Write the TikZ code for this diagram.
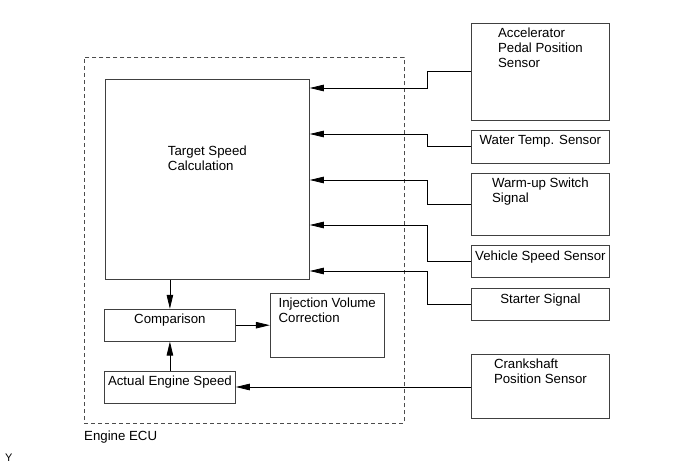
\documentclass[tikz,border=0pt]{standalone}
\usepackage{fontspec}
\setmainfont{Liberation Sans}
\usepackage{xcolor}
\usepackage{tikz}
\usetikzlibrary{arrows.meta,positioning,shapes,calc}

\begin{document}
\begin{tikzpicture}[
    x=1bp, y=1bp,
    box/.style={rectangle, draw=black!75, line width=0.8bp, minimum width=138bp, inner sep=0pt},
    txt/.style={font=\fontsize{13.3}{15}\selectfont, align=left, inner sep=0pt, anchor=north, yshift=-5bp},
    arrow/.style={-{Triangle[length=14bp,width=6.5bp]}, line width=0.8bp},
    ecu/.style={rectangle, draw=black!70, line width=0.8bp, dash pattern=on 4bp off 3bp, inner sep=0pt}
]
    \useasboundingbox (0,0) rectangle (690,-465);

    % Engine ECU (dashed frame)
    \node[ecu, minimum width=320bp, minimum height=366bp, anchor=north west,
          label={[txt, anchor=north west, yshift=-2bp]south west:Engine ECU}] (ecubox) at (84,-57) {};

    % Target speed block (left, big)
    \node[box, minimum width=204bp, minimum height=200bp, anchor=north west,
          label={[txt, yshift=-62bp]north:{Target Speed\\Calculation}}] (target) at (105,-79) {};

    % Comparison, actual speed, injection correction (bottom left)
    \node[box, minimum width=131bp, minimum height=32bp, below right=29bp and -1bp of target.south west,
          label={[txt]north:Comparison}] (comp) {};
    \node[box, minimum width=131bp, minimum height=32bp, below=29bp of comp,
          label={[txt]north:Actual Engine Speed}] (act) {};
    \node[box, minimum width=114bp, minimum height=64bp, right=34bp of comp,
          label={[txt]north:{Injection Volume\\Correction}}] (inj) {};

    % Sensors (right column)
    \node[box, minimum height=97bp, anchor=north west,
          label={[txt]north:{Accelerator\\Pedal Position\\Sensor}}] (accel) at (471,-23) {};
    \node[box, minimum height=33bp, below=9bp of accel,
          label={[txt]north:Water Temp. Sensor}] (water) {};
    \node[box, minimum height=62bp, below=9bp of water,
          label={[txt]north:{Warm-up Switch\\Signal}}] (warm) {};
    \node[box, minimum height=32bp, below=10bp of warm,
          label={[txt]north:Vehicle Speed Sensor}] (vss) {};
    \node[box, minimum height=32bp, below=10bp of vss,
          label={[txt]north:Starter Signal}] (starter) {};
    \node[box, minimum height=64bp, below=33bp of starter,
          label={[txt]north:{Crankshaft\\Position Sensor}}] (crank) {};

    % Sensor signals into target speed calculation
    \draw[arrow] (accel.west) -- ++(-44,0) |- ($(target.north east)+(0,-9)$);
    \draw[arrow] (water.west) -- ++(-44,0) |- ($(target.north east)+(0,-55)$);
    \draw[arrow] (warm.west) -- ++(-44,0) |- ($(target.north east)+(0,-101)$);
    \draw[arrow] (vss.west) -- ++(-44,0) |- ($(target.north east)+(0,-146)$);
    \draw[arrow] (starter.west) -- ++(-44,0) |- ($(target.north east)+(0,-192)$);

    % Inner arrows
    \draw[arrow] (target.south -| comp.north) -- (comp.north);
    \draw[arrow] (act.north) -- (comp.south);
    \draw[arrow] (comp.east) -- (inj.west);
    \draw[arrow] (crank.west |- act.east) -- (act.east);

    % Corner mark
    \node[font=\fontsize{11}{13}\selectfont, anchor=west, inner sep=0pt] (mark) at (5,-458) {Y};

\end{tikzpicture}
\end{document}
